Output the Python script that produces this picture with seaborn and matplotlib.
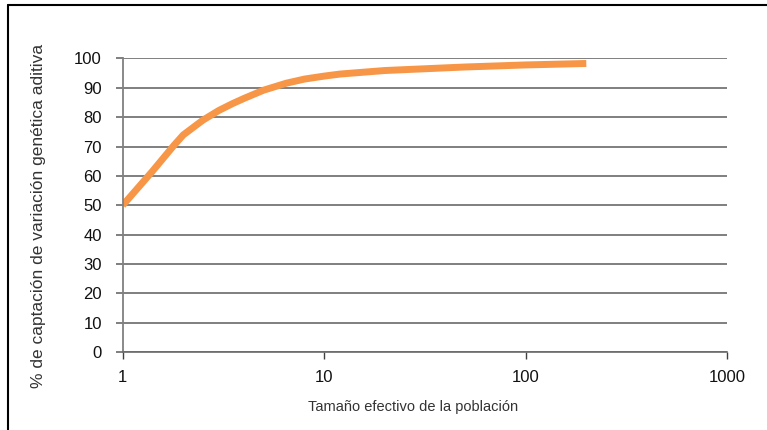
import matplotlib
matplotlib.use("Agg")
import matplotlib.pyplot as plt
import seaborn as sns
from matplotlib.lines import Line2D

# Datos (puntos a lo largo de la curva)
tamano_efectivo = [1, 1.4, 1.8, 2, 2.5, 3, 3.5, 4, 5, 6.5, 8, 10, 12, 20, 50, 100, 200]
captacion = [50, 61.5, 70.5, 74, 79, 82.3, 84.6, 86.4, 89.2, 91.6, 93, 94, 94.7, 95.9, 97.1, 97.8, 98.3]
ticks_x = [1, 10, 100, 1000]
ticks_y = list(range(0, 101, 10))

sns.set_style("white")
plt.rcParams['font.family'] = ['Liberation Sans', 'DejaVu Sans']

fig = plt.figure(figsize=(7.67, 4.30), dpi=100)
ax = fig.add_axes([0.16, 0.181, 0.788, 0.683])

sns.lineplot(x=tamano_efectivo, y=captacion, ax=ax, color='#F79646',
             linewidth=5, solid_capstyle='butt', solid_joinstyle='round')

ax.set_xscale('log')
ax.set_xlim(1, 1000)
ax.set_ylim(0, 100)
ax.set_xticks(ticks_x)
ax.set_xticklabels([str(t) for t in ticks_x])
ax.minorticks_off()
ax.set_yticks(ticks_y)
ax.set_yticklabels([str(t) for t in ticks_y])

ax.grid(axis='y', color='#6a6a6a', linewidth=1.2)
ax.set_axisbelow(True)
for lado in ['top', 'right']:
    ax.spines[lado].set_visible(False)
ax.spines['left'].set_color('#808080')
ax.spines['left'].set_linewidth(1.3)
ax.spines['bottom'].set_color('#6a6a6a')
ax.spines['bottom'].set_linewidth(1.2)

ax.tick_params(axis='y', which='major', direction='out', length=5, width=1.2,
               color='#6a6a6a', left=True, labelsize=12, pad=10, labelcolor='#111111')
ax.tick_params(axis='x', which='major', direction='out', length=5, width=1.0,
               color='#404040', bottom=True, labelsize=12, pad=8, labelcolor='#111111')

ax.set_xlabel('Tamaño efectivo de la población', fontsize=10.5, color='#333333')
ax.xaxis.set_label_coords(0.48, -0.163)
ax.set_ylabel('% de captación de variación genética aditiva', fontsize=12.5,
              color='#333333')
ax.yaxis.set_label_coords(-0.127, 0.463)

# marco exterior (solo arriba e izquierda)
fig.add_artist(Line2D([0.0104, 1.0], [0.988, 0.988], color='black', linewidth=1.5,
                      transform=fig.transFigure))
fig.add_artist(Line2D([0.0104, 0.0104], [0.0, 0.988], color='black', linewidth=1.5,
                      transform=fig.transFigure))

fig.savefig('out.png', dpi=100)
